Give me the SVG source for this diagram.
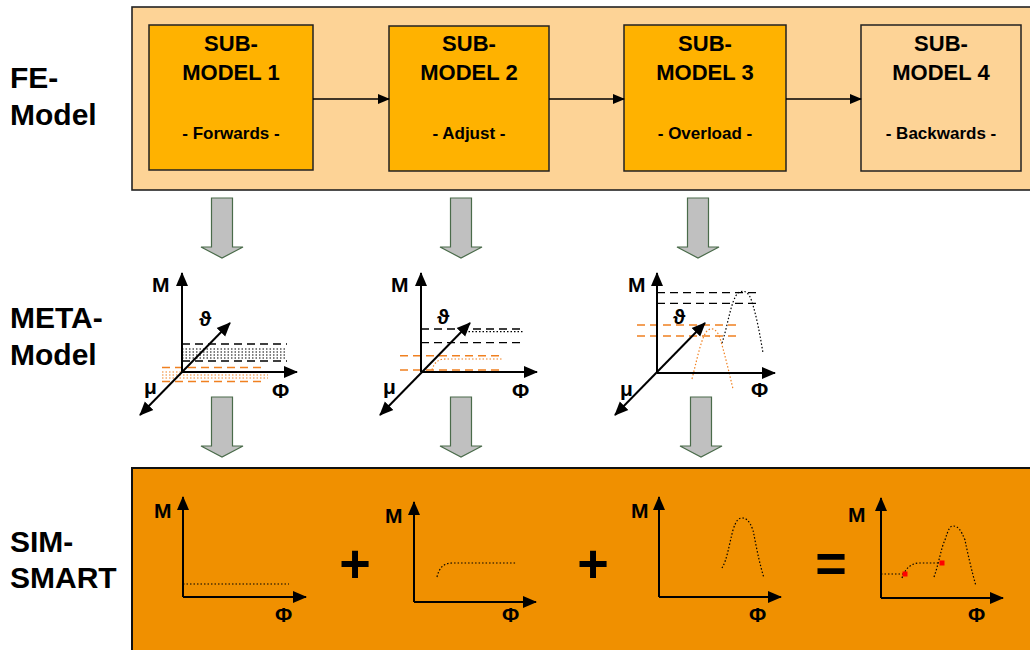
<svg xmlns="http://www.w3.org/2000/svg" xmlns:xlink="http://www.w3.org/1999/xlink" width="1030" height="650" viewBox="0 0 1030 650">
<defs>
<style>
text{font-family:"Liberation Sans",Arial,sans-serif;font-weight:bold;fill:#000}
.side{font-size:30px}
.bt{font-size:22px;text-anchor:middle}
.bs{font-size:17px;text-anchor:middle}
.ax{font-size:21px}
.op{font-size:54px;text-anchor:middle}
.axis{stroke:#000;stroke-width:2;fill:none}
.kd{stroke:#000;stroke-width:1.3;stroke-dasharray:8 5;fill:none}
.kt{stroke:#000;stroke-width:1.2;stroke-dasharray:1.5 2;fill:none}
.od{stroke:#F08020;stroke-width:1.4;stroke-dasharray:8 5;fill:none}
.ot{stroke:#F08020;stroke-width:1.2;stroke-dasharray:1.5 2;fill:none}
.conn{stroke:#000;stroke-width:1.5;fill:none}
.down{fill:#C0C0C0;stroke:#4A6B4A;stroke-width:1.2}
</style>
<marker id="ah" markerUnits="userSpaceOnUse" markerWidth="14" markerHeight="14" viewBox="0 0 14 14" refX="13" refY="7" orient="auto-start-reverse">
<path d="M0,1 L14,7 L0,13 Z" fill="#000"/>
</marker>
<marker id="ahs" markerUnits="userSpaceOnUse" markerWidth="12" markerHeight="12" viewBox="0 0 12 12" refX="11" refY="6" orient="auto">
<path d="M0,1 L12,6 L0,11 Z" fill="#000"/>
</marker>
<path id="dn" class="down" d="M-10.5,0 L10.5,0 L10.5,49 L21,49 L0,60 L-21,49 L-10.5,49 Z"/>
</defs>

<rect width="1030" height="650" fill="#FFFFFF"/>

<!-- panels -->
<rect id="fe-panel" x="132" y="7" width="910" height="183" fill="#FDD396" stroke="#222" stroke-width="1.6"/>
<rect id="sim-panel" x="132" y="468" width="910" height="200" fill="#F09000" stroke="#111" stroke-width="2"/>

<!-- side labels -->
<g id="label-fe"><text class="side" x="10" y="88">FE-</text><text class="side" x="10" y="125">Model</text></g>
<g id="label-meta"><text class="side" x="10" y="328">META-</text><text class="side" x="10" y="365">Model</text></g>
<g id="label-sim"><text class="side" x="10" y="552">SIM-</text><text class="side" x="10" y="588">SMART</text></g>

<!-- FE submodels -->
<g id="sub1"><rect x="149" y="25" width="164" height="145" fill="#FFB200" stroke="#222" stroke-width="1.5"/>
<text class="bt" x="231" y="51">SUB-</text><text class="bt" x="231" y="80">MODEL 1</text><text class="bs" x="231" y="139">- Forwards -</text></g>
<g id="sub2"><rect x="389" y="26" width="160" height="145" fill="#FFB200" stroke="#222" stroke-width="1.5"/>
<text class="bt" x="469" y="51">SUB-</text><text class="bt" x="469" y="80">MODEL 2</text><text class="bs" x="469" y="139">- Adjust -</text></g>
<g id="sub3"><rect x="624" y="25" width="162" height="146" fill="#FFB200" stroke="#222" stroke-width="1.5"/>
<text class="bt" x="705" y="51">SUB-</text><text class="bt" x="705" y="80">MODEL 3</text><text class="bs" x="705" y="139">- Overload -</text></g>
<g id="sub4"><rect x="861" y="25" width="160" height="146" fill="#FDD396" stroke="#222" stroke-width="1.5"/>
<text class="bt" x="941" y="51">SUB-</text><text class="bt" x="941" y="80">MODEL 4</text><text class="bs" x="941" y="139">- Backwards -</text></g>

<g id="connectors">
<line class="conn" x1="313" y1="99" x2="389" y2="99" marker-end="url(#ahs)"/>
<line class="conn" x1="549" y1="99" x2="624" y2="99" marker-end="url(#ahs)"/>
<line class="conn" x1="786" y1="99" x2="861" y2="99" marker-end="url(#ahs)"/>
<use xlink:href="#dn" href="#dn" x="222" y="198"/>
<use xlink:href="#dn" href="#dn" x="461" y="198"/>
<use xlink:href="#dn" href="#dn" x="698" y="198"/>
<use xlink:href="#dn" href="#dn" x="222" y="397"/>
<use xlink:href="#dn" href="#dn" x="461" y="397"/>
<use xlink:href="#dn" href="#dn" x="701" y="397"/>
</g>

<!-- META model 1 -->
<g id="meta1">
<line class="kd" x1="182" y1="344" x2="287" y2="344"/>
<line class="kd" x1="182" y1="361" x2="287" y2="361"/>
<line class="kt" x1="182" y1="349" x2="287" y2="349"/>
<line class="kt" x1="182" y1="352" x2="287" y2="352"/>
<line class="kt" x1="182" y1="355" x2="287" y2="355"/>
<line class="kt" x1="182" y1="358" x2="287" y2="358"/>
<line class="od" x1="162" y1="367.5" x2="263" y2="367.5"/>
<line class="od" x1="162" y1="381.5" x2="263" y2="381.5"/>
<line class="ot" x1="162" y1="372" x2="268" y2="372"/>
<line class="ot" x1="162" y1="375" x2="268" y2="375"/>
<line class="ot" x1="162" y1="378" x2="268" y2="378"/>
<line class="axis" x1="182" y1="372" x2="182" y2="273" marker-end="url(#ah)"/>
<line class="axis" x1="182" y1="372" x2="297" y2="372" marker-end="url(#ah)"/>
<line class="axis" x1="140" y1="415" x2="230" y2="323" marker-start="url(#ah)" marker-end="url(#ah)"/>
<text class="ax" x="152" y="292">M</text>
<text class="ax" x="199" y="326">ϑ</text>
<text class="ax" x="144" y="394">μ</text>
<text class="ax" x="272" y="398">Φ</text>
</g>

<!-- META model 2 -->
<g id="meta2">
<line class="kd" x1="421" y1="329" x2="523" y2="329"/>
<line class="kd" x1="421" y1="342.7" x2="523" y2="342.7"/>
<line class="kt" x1="465" y1="331.7" x2="523" y2="331.7"/>
<line class="od" x1="400" y1="355.7" x2="502" y2="355.7"/>
<line class="od" x1="400" y1="370" x2="502" y2="370"/>
<path class="ot" d="M432,370 Q435,359 445,359 L502,359"/>
<line class="axis" x1="421" y1="372" x2="421" y2="273" marker-end="url(#ah)"/>
<line class="axis" x1="421" y1="372" x2="537" y2="372" marker-end="url(#ah)"/>
<line class="axis" x1="380" y1="415" x2="470" y2="323" marker-start="url(#ah)" marker-end="url(#ah)"/>
<text class="ax" x="391" y="292">M</text>
<text class="ax" x="437" y="324">ϑ</text>
<text class="ax" x="383" y="394">μ</text>
<text class="ax" x="512" y="398">Φ</text>
</g>

<!-- META model 3 -->
<g id="meta3">
<line class="kd" x1="657" y1="292.7" x2="758" y2="292.7"/>
<line class="kd" x1="657" y1="303.3" x2="760" y2="303.3"/>
<path class="kt" d="M722,343 C728,325 731,300 738,293 C744,289 749,292 752,302 C757,318 760,335 763,353"/>
<line class="od" x1="637" y1="325" x2="738" y2="325"/>
<line class="od" x1="637" y1="336" x2="738" y2="336"/>
<path class="ot" d="M692,379 C698,355 702,335 708,330 C713,327 717,330 720,338 C725,355 729,372 733,389"/>
<line class="axis" x1="657" y1="373" x2="657" y2="273" marker-end="url(#ah)"/>
<line class="axis" x1="657" y1="373" x2="775" y2="373" marker-end="url(#ah)"/>
<line class="axis" x1="615" y1="415" x2="705" y2="323" marker-start="url(#ah)" marker-end="url(#ah)"/>
<text class="ax" x="628" y="292">M</text>
<text class="ax" x="673" y="324">ϑ</text>
<text class="ax" x="620" y="396">μ</text>
<text class="ax" x="751" y="397">Φ</text>
</g>

<!-- SIM-SMART graphs -->
<g id="sim1">
<line class="kt" x1="183" y1="584" x2="289" y2="584"/>
<line class="axis" x1="183" y1="597" x2="183" y2="497" marker-end="url(#ah)"/>
<line class="axis" x1="183" y1="597" x2="306" y2="597" marker-end="url(#ah)"/>
<text class="ax" x="154" y="518">M</text>
<text class="ax" x="275" y="622">Φ</text>
</g>
<text id="plus1" class="op" x="355" y="582">+</text>
<g id="sim2">
<path class="kt" d="M437,577 Q440,563 452,563 L516,563"/>
<line class="axis" x1="414" y1="602" x2="414" y2="502" marker-end="url(#ah)"/>
<line class="axis" x1="414" y1="602" x2="536" y2="602" marker-end="url(#ah)"/>
<text class="ax" x="385" y="523">M</text>
<text class="ax" x="502" y="622">Φ</text>
</g>
<text id="plus2" class="op" x="593" y="582">+</text>
<g id="sim3">
<path class="kt" d="M722,568 C727,560 729,545 733,530 C736,520 739,518 742,518 C746,518 749,520 753,530 C756,545 759,562 764,578"/>
<line class="axis" x1="659" y1="597" x2="659" y2="497" marker-end="url(#ah)"/>
<line class="axis" x1="659" y1="597" x2="781" y2="597" marker-end="url(#ah)"/>
<text class="ax" x="631" y="518">M</text>
<text class="ax" x="749" y="622">Φ</text>
</g>
<text id="eq" class="op" x="831" y="582">=</text>
<g id="sim4">
<line class="kt" x1="881" y1="574" x2="905" y2="574"/>
<path class="kt" d="M902,578 Q907,563 920,563 L942,563"/>
<path class="kt" d="M934,577 C939,563 941,548 945,540 C948,530 950,526 953,526 C958,526 961,530 965,540 C968,555 972,572 976,586"/>
<rect x="902.5" y="571.5" width="5" height="5" fill="#FF0000"/>
<rect x="939.5" y="560.5" width="5" height="5" fill="#FF0000"/>
<line class="axis" x1="881" y1="598" x2="881" y2="498" marker-end="url(#ah)"/>
<line class="axis" x1="881" y1="598" x2="1003" y2="598" marker-end="url(#ah)"/>
<text class="ax" x="848" y="522">M</text>
<text class="ax" x="968" y="622">Φ</text>
</g>
</svg>
